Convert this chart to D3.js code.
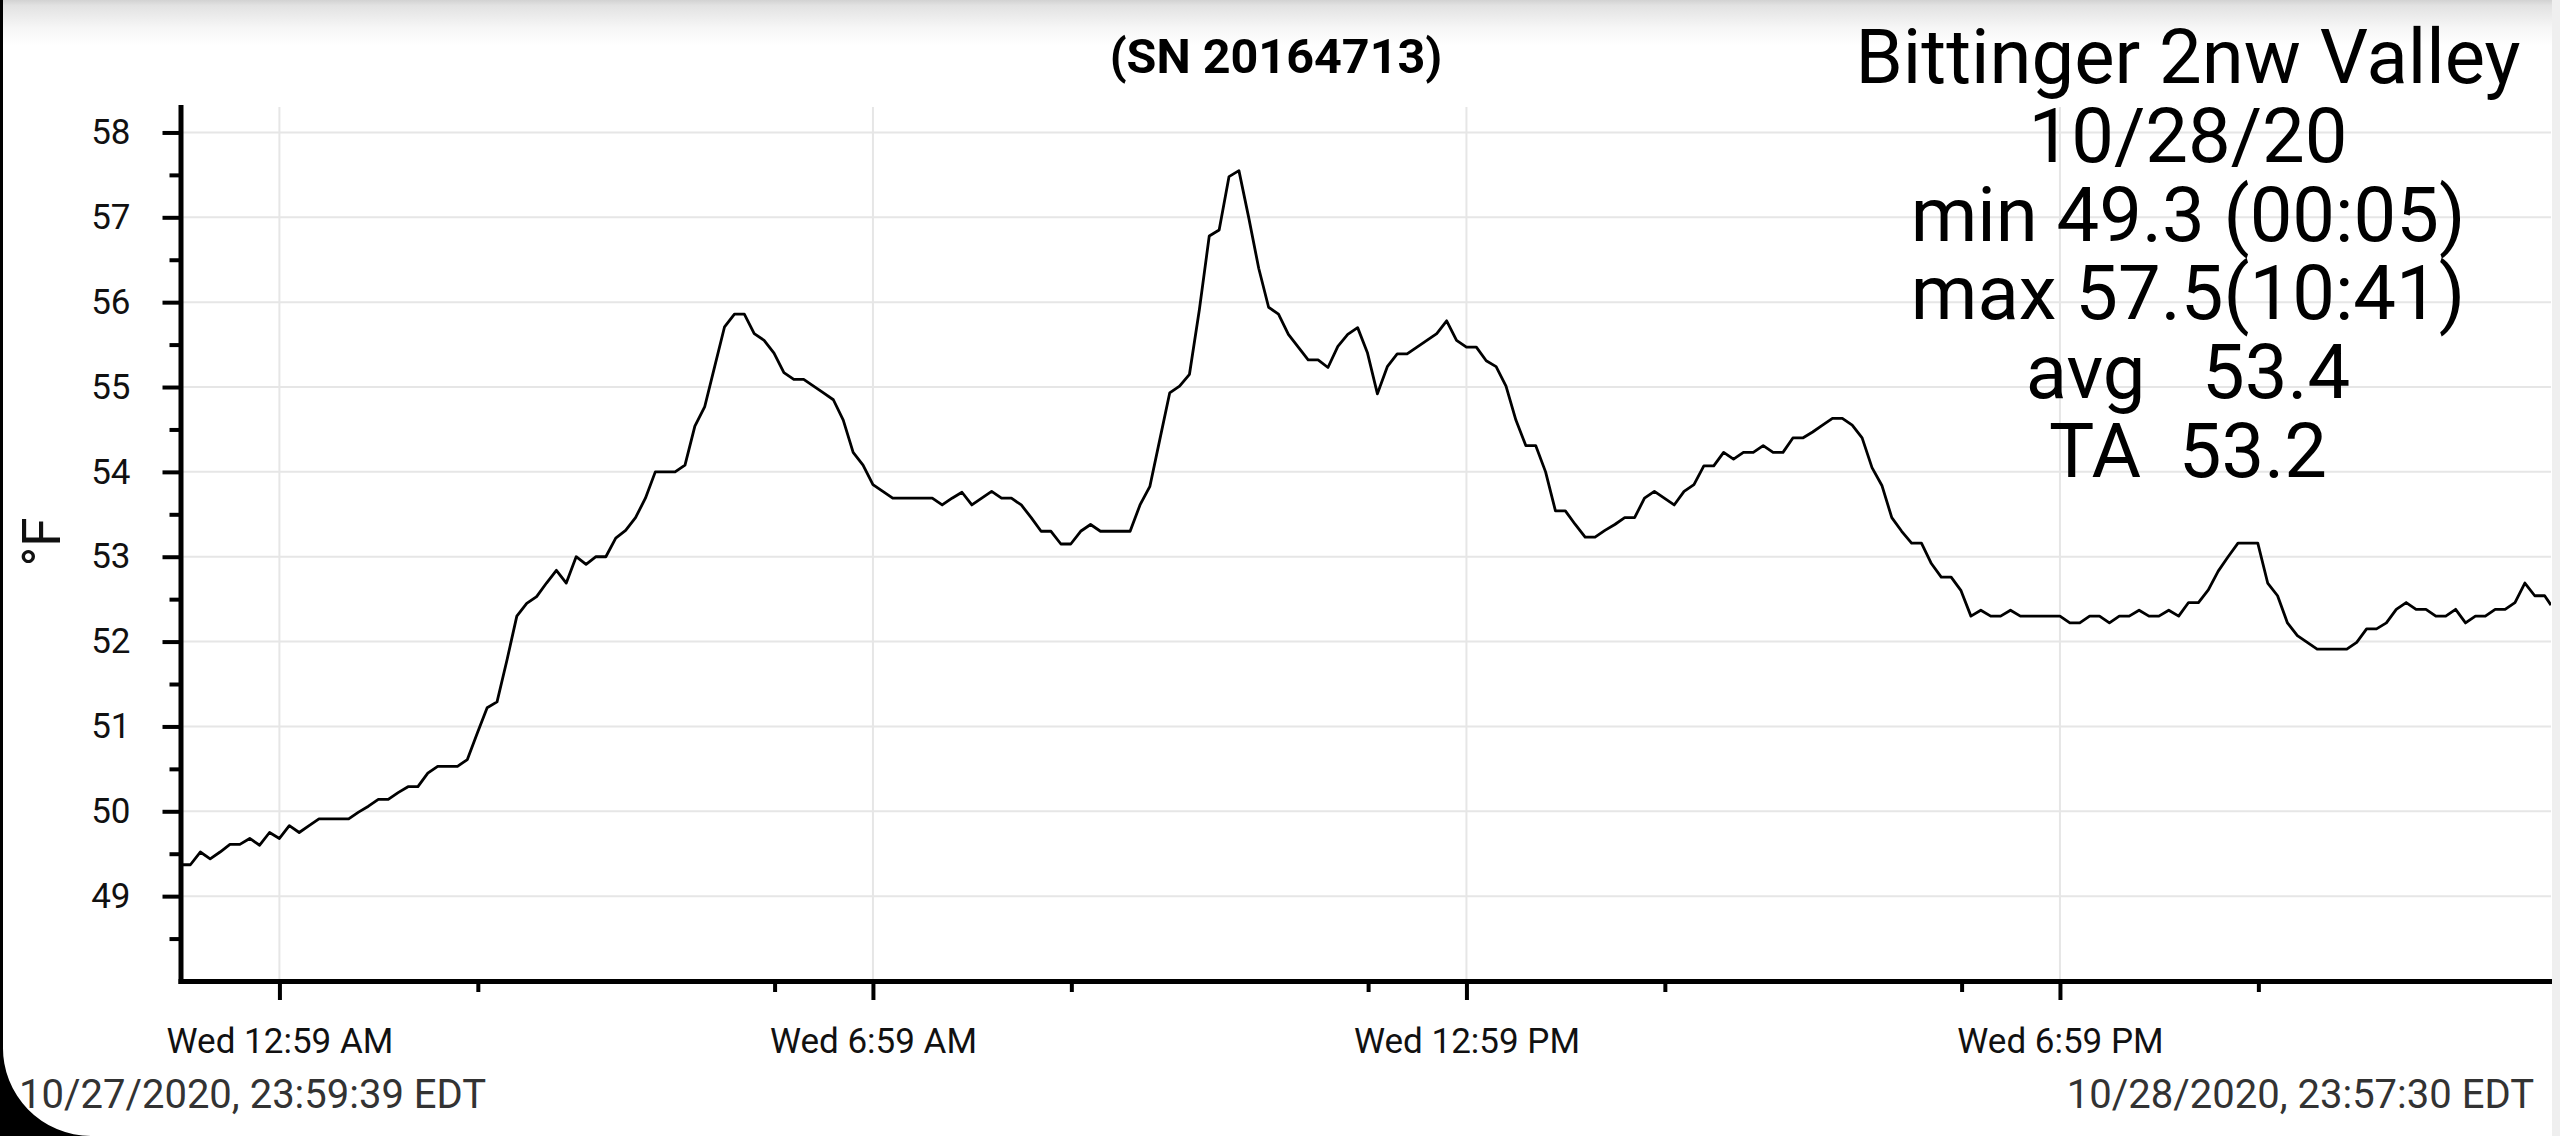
<!DOCTYPE html>
<html>
<head>
<meta charset="utf-8">
<script src="https://cdn.jsdelivr.net/npm/d3@7"></script>
<style>
html,body{margin:0;padding:0;background:#fff;overflow:hidden;}
svg{display:block;}
text{font-family:Roboto,"Noto Sans",sans-serif;}
</style>
</head>
<body>
<svg id="chart" width="2560" height="1136"></svg>
<script>
// ---------------- DATA ----------------
const firstSampleTime = "2020-10-27T23:59:39";
const lastSampleTime  = "2020-10-28T23:57:30";
const sampleStepMinutes = 6;
// temperature readings (°F), one every 6 minutes; the final one is at lastSampleTime
const temps = [
 49.37,49.37,49.52,49.44,49.52,49.61,49.61,49.68,49.60,49.75,49.68,49.83,49.75,49.83,49.91,49.91,49.91,49.91,49.99,50.06,
 50.14,50.14,50.22,50.29,50.29,50.45,50.53,50.53,50.53,50.61,50.92,51.22,51.29,51.78,52.30,52.45,52.53,52.69,52.84,52.69,
 53.00,52.91,53.00,53.00,53.22,53.31,53.46,53.69,54.00,54.00,54.00,54.08,54.54,54.77,55.24,55.71,55.86,55.86,55.63,55.55,
 55.40,55.17,55.09,55.09,55.01,54.93,54.85,54.61,54.23,54.08,53.85,53.77,53.69,53.69,53.69,53.69,53.69,53.61,53.69,53.76,
 53.61,53.69,53.77,53.69,53.69,53.61,53.46,53.30,53.30,53.15,53.15,53.30,53.38,53.30,53.30,53.30,53.30,53.61,53.83,54.38,
 54.93,55.01,55.15,55.91,56.78,56.85,57.48,57.55,56.99,56.40,55.94,55.86,55.62,55.47,55.32,55.32,55.23,55.48,55.62,55.70,
 55.40,54.92,55.24,55.39,55.39,55.47,55.55,55.63,55.78,55.55,55.47,55.47,55.31,55.24,55.01,54.61,54.31,54.31,54.00,53.54,
 53.54,53.38,53.23,53.23,53.31,53.38,53.46,53.46,53.69,53.77,53.69,53.61,53.77,53.85,54.07,54.07,54.23,54.15,54.23,54.23,
 54.31,54.23,54.23,54.40,54.40,54.47,54.55,54.63,54.63,54.55,54.40,54.05,53.84,53.46,53.30,53.16,53.16,52.92,52.76,52.76,
 52.60,52.30,52.37,52.30,52.30,52.37,52.30,52.30,52.30,52.30,52.30,52.22,52.22,52.30,52.30,52.22,52.30,52.30,52.37,52.30,
 52.30,52.37,52.30,52.46,52.46,52.61,52.83,53.00,53.16,53.16,53.16,52.69,52.54,52.22,52.07,51.99,51.91,51.91,51.91,51.91,
 51.99,52.15,52.15,52.22,52.38,52.46,52.38,52.38,52.30,52.30,52.38,52.22,52.30,52.30,52.38,52.38,52.46,52.69,52.54,52.54,
 52.43
];
const yMajorTicks = [49,50,51,52,53,54,55,56,57,58];
const yMinorTicks = [48.5,49.5,50.5,51.5,52.5,53.5,54.5,55.5,56.5,57.5];
const xMajorTickTimes  = ["2020-10-28T00:59:39","2020-10-28T06:59:39","2020-10-28T12:59:39","2020-10-28T18:59:39"];
const xMajorTickLabels = ["Wed 12:59 AM","Wed 6:59 AM","Wed 12:59 PM","Wed 6:59 PM"];
const xMinorTickTimes  = ["2020-10-28T03:00:00","2020-10-28T06:00:00","2020-10-28T09:00:00","2020-10-28T12:00:00",
                          "2020-10-28T15:00:00","2020-10-28T18:00:00","2020-10-28T21:00:00"];
const titleText = "(SN 20164713)";
const yAxisTitle = "°F";
const infoLines = ["Bittinger 2nw Valley","10/28/20","min 49.3 (00:05)","max 57.5(10:41)","avg   53.4","TA  53.2"];
const startLabel = "10/27/2020, 23:59:39 EDT";
const endLabel   = "10/28/2020, 23:57:30 EDT";

// ---------------- BUILD ----------------
const parseT = d3.timeParse("%Y-%m-%dT%H:%M:%S");
const t0 = parseT(firstSampleTime), tEnd = parseT(lastSampleTime);
const series = temps.map((v,i)=>({
  t: i === temps.length-1 ? tEnd : d3.timeMinute.offset(t0, i*sampleStepMinutes),
  v
}));

const W = 2560, H = 1136;
const plotL = 180.5, plotR = 2551, plotT = 107, plotB = 981;

const svg = d3.select("#chart");
const defs = svg.append("defs");
const grad = defs.append("linearGradient").attr("id","topShade")
  .attr("x1",0).attr("y1",0).attr("x2",0).attr("y2",1);
grad.append("stop").attr("offset",0).attr("stop-color","#d2d2d2");
grad.append("stop").attr("offset",0.12).attr("stop-color","#e2e2e2");
grad.append("stop").attr("offset",0.6).attr("stop-color","#f6f6f6");
grad.append("stop").attr("offset",1).attr("stop-color","#ffffff");
defs.append("clipPath").attr("id","plotClip").append("rect")
  .attr("x",plotL).attr("y",0).attr("width",plotR-plotL).attr("height",plotB);

svg.append("rect").attr("width",W).attr("height",H).attr("fill","#fff");
svg.append("rect").attr("x",0).attr("y",0).attr("width",W).attr("height",46).attr("fill","url(#topShade)");

const x = d3.scaleTime().domain([t0,tEnd]).range([plotL,plotR]);
const y = d3.scaleLinear().domain([48,58.3]).range([plotB,plotT]);

// gridlines
svg.append("g").selectAll("line").data(yMajorTicks).join("line")
  .attr("x1",plotL).attr("x2",plotR)
  .attr("y1",d=>y(d)).attr("y2",d=>y(d))
  .attr("stroke","#e6e6e6").attr("stroke-width",2);
svg.append("g").selectAll("line").data(xMajorTickTimes.map(parseT)).join("line")
  .attr("x1",d=>x(d)).attr("x2",d=>x(d))
  .attr("y1",plotT).attr("y2",plotB)
  .attr("stroke","#e6e6e6").attr("stroke-width",2);

// data line
svg.append("path").datum(series)
  .attr("clip-path","url(#plotClip)")
  .attr("fill","none").attr("stroke","#000").attr("stroke-width",2.8)
  .attr("stroke-linejoin","round")
  .attr("d", d3.line().x(d=>x(d.t)).y(d=>y(d.v)));

// y axis
const gYminor = svg.append("g").attr("transform",`translate(${plotL},0)`)
  .call(d3.axisLeft(y).tickValues(yMinorTicks).tickSize(11).tickSizeOuter(0).tickFormat(""));
gYminor.select(".domain").remove();
gYminor.selectAll(".tick line").attr("stroke","#000").attr("stroke-width",4);

const gY = svg.append("g").attr("transform",`translate(${plotL},0)`)
  .call(d3.axisLeft(y).tickValues(yMajorTicks).tickSize(18).tickSizeOuter(0).tickPadding(32).tickFormat(d3.format("d")));
gY.attr("font-family","Roboto").attr("font-size",35);
gY.select(".domain").attr("stroke","#000").attr("stroke-width",5).attr("stroke-linecap","square");
gY.selectAll(".tick line").attr("stroke","#000").attr("stroke-width",4);
gY.selectAll(".tick text").attr("fill","#111");

// x axis
const gXminor = svg.append("g").attr("transform",`translate(0,${plotB})`)
  .call(d3.axisBottom(x).tickValues(xMinorTickTimes.map(parseT)).tickSize(11).tickSizeOuter(0).tickFormat(""));
gXminor.select(".domain").remove();
gXminor.selectAll(".tick line").attr("stroke","#000").attr("stroke-width",4);

const gX = svg.append("g").attr("transform",`translate(0,${plotB})`)
  .call(d3.axisBottom(x).tickValues(xMajorTickTimes.map(parseT)).tickSize(19).tickSizeOuter(0).tickPadding(28)
    .tickFormat((d,i)=>xMajorTickLabels[i]));
gX.attr("font-family","Roboto").attr("font-size",35);
gX.select(".domain").attr("stroke","#000").attr("stroke-width",5).attr("stroke-linecap","square");
gX.selectAll(".tick line").attr("stroke","#000").attr("stroke-width",4);
gX.selectAll(".tick text").attr("fill","#111");

// axis title
svg.append("text").attr("transform","translate(60,542) rotate(-90)")
  .attr("text-anchor","middle").attr("font-size",53).attr("fill","#111").text(yAxisTitle);

// title
svg.append("text").attr("x",1276).attr("y",73).attr("text-anchor","middle")
  .attr("font-size",48.5).attr("font-weight","bold").attr("fill","#000").text(titleText);

// info block
svg.append("g").selectAll("text").data(infoLines).join("text")
  .attr("x",2188).attr("y",(d,i)=>83+i*78.8)
  .attr("text-anchor","middle").attr("font-size",76).attr("fill","#000")
  .style("white-space","pre").text(d=>d);

// date range labels
svg.append("text").attr("x",19).attr("y",1108).attr("font-size",40).attr("fill","#333").text(startLabel);
svg.append("text").attr("x",2534).attr("y",1108).attr("text-anchor","end").attr("font-size",40).attr("fill","#333").text(endLabel);

// device frame edges
svg.append("rect").attr("x",2552).attr("y",0).attr("width",8).attr("height",H).attr("fill","#efefef");
svg.append("rect").attr("x",0).attr("y",0).attr("width",3).attr("height",H).attr("fill","#000");
svg.append("path").attr("d","M0,1046 L3,1046 A88,88 0 0 0 91,1136 L0,1136 Z").attr("fill","#000");
</script>
</body>
</html>
